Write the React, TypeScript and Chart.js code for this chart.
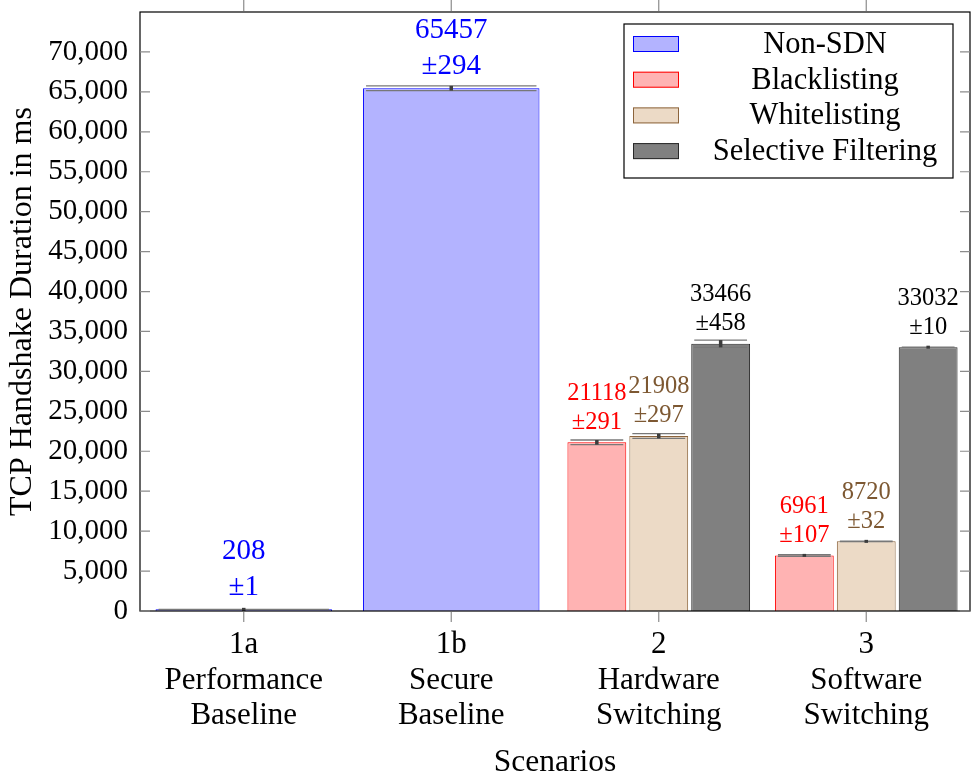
import React, { useEffect, useRef } from "react";
import { Chart, registerables } from "chart.js";

Chart.register(...registerables);

const categories: string[][] = [
  ["1a", "Performance", "Baseline"],
  ["1b", "Secure", "Baseline"],
  ["2", "Hardware", "Switching"],
  ["3", "Software", "Switching"],
];

const seriesNames = ["Non-SDN", "Blacklisting", "Whitelisting", "Selective Filtering"];

const nonSdnValues = [208, 65457, null, null];
const nonSdnErrors = [1, 294, null, null];
const blacklistValues = [null, null, 21118, 6961];
const blacklistErrors = [null, null, 291, 107];
const whitelistValues = [null, null, 21908, 8720];
const whitelistErrors = [null, null, 297, 32];
const selectiveValues = [null, null, 33466, 33032];
const selectiveErrors = [null, null, 458, 10];

const yTicks = [0, 5000, 10000, 15000, 20000, 25000, 30000, 35000, 40000, 45000, 50000, 55000, 60000, 65000, 70000];
const yMax = 75000;

const FONT = "'Liberation Serif', 'DejaVu Serif', serif";

const fills = ["rgb(179,179,255)", "rgb(255,179,179)", "rgb(236,218,198)", "rgb(128,128,128)"];
const borders = ["rgb(0,0,255)", "rgb(255,0,0)", "rgb(140,100,60)", "rgb(40,40,40)"];
const labelColors = ["rgb(0,0,255)", "rgb(255,0,0)", "rgb(125,88,50)", "rgb(0,0,0)"];
const labelSizes = [29, 24.5, 24.5, 24.5];
const labelGaps = [36, 29, 29, 29];

const allValues = [nonSdnValues, blacklistValues, whitelistValues, selectiveValues];
const allErrors = [nonSdnErrors, blacklistErrors, whitelistErrors, selectiveErrors];

const overlay = {
  id: "overlay",
  afterDatasetsDraw(chart: any) {
    const { ctx, chartArea: a, scales } = chart;
    const x = scales.x;
    const y = scales.y;
    ctx.save();
    // error bars and labels
    allValues.forEach((vals, di) => {
      const meta = chart.getDatasetMeta(di);
      vals.forEach((v, i) => {
        if (v == null) return;
        const e = allErrors[di][i] as number;
        const bar = meta.data[i];
        const cx = bar.x;
        const w = bar.width;
        const yHi = y.getPixelForValue(v + e);
        const yLo = y.getPixelForValue(v - e);
        const yTop = y.getPixelForValue(v);
        ctx.strokeStyle = "rgb(120,120,120)";
        ctx.lineWidth = 1.3;
        ctx.beginPath();
        ctx.moveTo(cx - w / 2 + 3, yHi);
        ctx.lineTo(cx + w / 2 - 3, yHi);
        ctx.moveTo(cx - w / 2 + 3, yLo);
        ctx.lineTo(cx + w / 2 - 3, yLo);
        ctx.stroke();
        ctx.strokeStyle = "rgb(60,60,60)";
        ctx.lineWidth = 3.5;
        ctx.beginPath();
        ctx.moveTo(cx, Math.min(yHi, yTop - 1.5));
        ctx.lineTo(cx, Math.max(yLo, yTop + 1.5));
        ctx.stroke();
        // labels
        ctx.fillStyle = labelColors[di];
        ctx.font = `${labelSizes[di]}px ${FONT}`;
        ctx.textAlign = "center";
        ctx.textBaseline = "middle";
        const base = yTop - (di === 0 ? 22 : 20);
        ctx.fillText("\u00b1" + e, cx, base);
        ctx.fillText(String(v), cx, base - labelGaps[di]);
      });
    });
    // frame
    ctx.strokeStyle = "#000";
    ctx.lineWidth = 1.2;
    ctx.strokeRect(a.left, a.top, a.right - a.left, a.bottom - a.top);
    // ticks
    ctx.strokeStyle = "rgb(140,140,140)";
    ctx.lineWidth = 1.2;
    ctx.beginPath();
    yTicks.forEach((t) => {
      const py = y.getPixelForValue(t);
      ctx.moveTo(a.left, py);
      ctx.lineTo(a.left + 10, py);
      ctx.moveTo(a.right, py);
      ctx.lineTo(a.right - 10, py);
    });
    categories.forEach((_, i) => {
      const px = x.getPixelForValue(i);
      ctx.moveTo(px, a.bottom + 1);
      ctx.lineTo(px, a.bottom + 11);
      ctx.moveTo(px, a.top - 1);
      ctx.lineTo(px, a.top - 12);
    });
    ctx.stroke();
    // axis titles
    ctx.fillStyle = "#000";
    ctx.font = `31.5px ${FONT}`;
    ctx.textAlign = "center";
    ctx.textBaseline = "middle";
    ctx.fillText("Scenarios", (a.left + a.right) / 2, 763);
    ctx.save();
    ctx.font = `32px ${FONT}`;
    ctx.translate(23, (a.top + a.bottom) / 2);
    ctx.rotate(-Math.PI / 2);
    ctx.fillText("TCP Handshake Duration in ms", 0, 0);
    ctx.restore();
    // legend
    const lx = 624, ly = 24, lw = 329, lh = 154;
    ctx.fillStyle = "#fff";
    ctx.fillRect(lx, ly, lw, lh);
    ctx.strokeStyle = "#000";
    ctx.lineWidth = 1.2;
    ctx.strokeRect(lx, ly, lw, lh);
    seriesNames.forEach((name, i) => {
      const cy = 44 + i * 35.7;
      ctx.fillStyle = fills[i];
      ctx.fillRect(633, cy - 8, 46, 16);
      ctx.strokeStyle = borders[i];
      ctx.lineWidth = 1;
      ctx.strokeRect(633.5, cy - 7.5, 45, 15);
      ctx.fillStyle = "#000";
      ctx.font = `30.5px ${FONT}`;
      ctx.textAlign = "center";
      ctx.textBaseline = "middle";
      ctx.fillText(name, 825, cy + 1);
    });
    ctx.restore();
  },
};

export default function App() {
  const ref = useRef<HTMLCanvasElement | null>(null);
  useEffect(() => {
    document.body.style.margin = "0";
    const canvas = ref.current!;
    const chart = new Chart(canvas, {
      type: "bar",
      data: {
        labels: categories,
        datasets: seriesNames.map((name, i) => ({
          label: name,
          data: allValues[i],
          backgroundColor: fills[i],
          borderColor: borders[i],
          borderWidth: 1,
          skipNull: true,
          categoryPercentage: 0.895,
          barPercentage: 0.95,
        })) as any,
      },
      options: {
        animation: false,
        responsive: false,
        maintainAspectRatio: false,
        layout: { padding: { top: 12, right: 1, left: 0, bottom: 0 } },
        plugins: { legend: { display: false }, tooltip: { enabled: false } },
        scales: {
          x: {
            grid: { display: false, drawTicks: false },
            border: { display: false },
            ticks: {
              padding: 16,
              color: "#000",
              font: { family: FONT, size: 31, lineHeight: 1.15 },
            },
            afterFit: (s: any) => {
              s.height = 167;
              s.paddingLeft = 0;
              s.paddingRight = 0;
            },
          },
          y: {
            min: 0,
            max: yMax,
            grid: { display: false, drawTicks: false },
            border: { display: false },
            afterBuildTicks: (s: any) => {
              s.ticks = yTicks.map((v) => ({ value: v }));
            },
            ticks: {
              padding: 12,
              color: "#000",
              font: { family: FONT, size: 29 },
              callback: (v: any) => Number(v).toLocaleString("en-US"),
            },
            afterFit: (s: any) => {
              s.width = 140;
              s.paddingTop = 0;
              s.paddingBottom = 0;
            },
          },
        },
      },
      plugins: [overlay],
    });
    return () => chart.destroy();
  }, []);
  return <canvas ref={ref} width={971} height={778} style={{ display: "block" }} />;
}
